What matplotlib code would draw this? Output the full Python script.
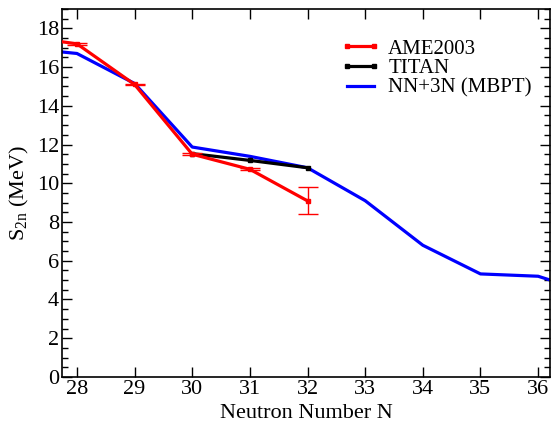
import numpy as np
import matplotlib.pyplot as plt
from matplotlib.ticker import MultipleLocator
from matplotlib.lines import Line2D

plt.rcParams['font.family'] = ['Liberation Serif', 'DejaVu Serif']
plt.rcParams['mathtext.fontset'] = 'custom'
plt.rcParams['mathtext.rm'] = 'Liberation Serif'
plt.rcParams['mathtext.it'] = 'Liberation Serif'

# AME2003 data
ame_n = [27, 28, 29, 30, 31, 32]
ame_s = [17.6, 17.2, 15.1, 11.5, 10.72, 9.09]
ame_err = [0.05, 0.05, 0.05, 0.05, 0.05, 0.7]

# TITAN
titan_n = [30, 31, 32]
titan_s = [11.53, 11.18, 10.8]

# NN+3N (MBPT)
mbpt_n = [27, 28, 29, 30, 31, 32, 33, 34, 35, 36, 37]
mbpt_s = [17.0, 16.7, 15.15, 11.87, 11.39, 10.8, 9.1, 6.8, 5.32, 5.2, 4.25]

fig, ax = plt.subplots(figsize=(5.53, 4.25), dpi=100)
fig.subplots_adjust(left=0.112, right=0.995, top=0.979, bottom=0.113)

ax.plot(mbpt_n, mbpt_s, color='#0000ff', lw=2.3, zorder=2)
ax.plot(titan_n, titan_s, color='black', lw=2.3, marker='s', ms=3.5, zorder=3)
ax.plot(ame_n, ame_s, color='#ff0000', lw=2.3, marker='s', ms=3.5, zorder=4)
ax.errorbar(ame_n, ame_s, yerr=ame_err, fmt='none', ecolor='#ff0000',
            elinewidth=1, capsize=7, capthick=1, zorder=4)

# legend proxies
handles = [
    Line2D([], [], color='#ff0000', lw=2.3, marker='s', ms=3),
    Line2D([], [], color='black', lw=2.3, marker='s', ms=3),
    Line2D([], [], color='#0000ff', lw=2.3),
]
leg = ax.legend(handles, ['AME2003', 'TITAN', 'NN+3N (MBPT)'], loc='upper left',
                bbox_to_anchor=(0.57, 0.918), frameon=False, fontsize=15,
                numpoints=2, borderpad=0, borderaxespad=0,
                handlelength=1.9, handletextpad=0.4, labelspacing=0.0)

ax.set_xlim(27.74, 36.21)
ax.set_ylim(0, 19)
ax.xaxis.set_major_locator(MultipleLocator(1))
ax.yaxis.set_major_locator(MultipleLocator(2))
ax.yaxis.set_minor_locator(MultipleLocator(0.5))
ax.tick_params(which='both', direction='in', top=True, right=True, labelsize=16, pad=2)
ax.tick_params(which='major', length=7, width=1)
ax.tick_params(which='minor', length=4, width=1)
for s in ax.spines.values():
    s.set_linewidth(1.2)

ax.set_xlabel('Neutron Number N', fontsize=16, labelpad=4)
ax.set_ylabel('S$_{\\mathrm{2n}}$ (MeV)', fontsize=16, labelpad=4)

fig.savefig('out.png', dpi=100)
